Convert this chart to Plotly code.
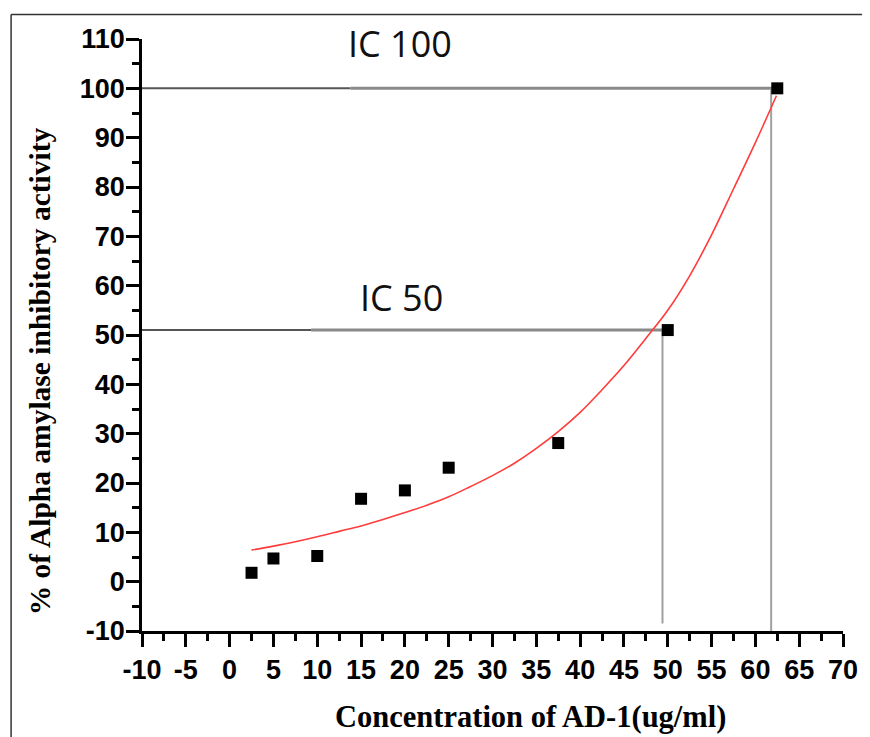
import plotly.graph_objects as go

# Measured data points
conc = [2.5, 5, 10, 15, 20, 25, 37.5, 50, 62.5]
inhibition = [1.8, 4.7, 5.2, 16.8, 18.5, 23.1, 28.1, 51.0, 100.0]

# Fitted curve
fit_x = [2.5, 5, 7.5, 10, 12.5, 15, 17.5, 20, 22.5, 25, 27.5, 30, 32.5, 35, 37.5, 40, 42.5, 45, 47.5, 50, 52.5, 55, 57.5, 60, 62.4]
fit_y = [6.4, 7.2, 8.1, 9.1, 10.2, 11.3, 12.6, 14.0, 15.5, 17.2, 19.3, 21.5, 24.0, 27.0, 30.4, 34.3, 38.9, 43.8, 49.3, 55.0, 62.0, 70.3, 79.6, 89.0, 98.5]

# IC reference lines
ic_labels = ["IC 100", "IC 50"]
ic_y = [100, 51]
ic_x = [61.8, 49.4]
ic_h_end = [62.4, 49.5]
ic_v_bottom = [-10, -8.5]
ic_dark_split = [13.8, 9.3]
ic_label_pos = [(19.45, 109.0), (19.6, 57.6)]

x_ticks = list(range(-10, 75, 5))
y_ticks = list(range(-10, 120, 10))

x_title = "Concentration of AD-1(ug/ml)"
y_title = "% of Alpha amylase inhibitory activity"

OFF = 8  # page body margin
W, H = 870 - OFF, 737 - OFF
ML = 142 - OFF
MT = 38.5 - OFF
MR = W - (843.5 - OFF)
MB = H - (631 - OFF)
pw, ph = W - ML - MR, H - MT - MB

fig = go.Figure()

fig.add_trace(go.Scatter(x=fit_x, y=fit_y, mode="lines",
                         line=dict(color="#ff3b3b", width=1.6, shape="spline", smoothing=1.0),
                         showlegend=False, hoverinfo="skip"))
fig.add_trace(go.Scatter(x=conc, y=inhibition, mode="markers",
                         marker=dict(symbol="square", size=12, color="black"), showlegend=False))

shapes = []
for yv, xv, he, vb, sp in zip(ic_y, ic_x, ic_h_end, ic_v_bottom, ic_dark_split):
    shapes.append(dict(type="line", xref="x", yref="y", x0=-10, x1=sp, y0=yv, y1=yv,
                       line=dict(color="#555555", width=2), layer="below"))
    shapes.append(dict(type="line", xref="x", yref="y", x0=sp, x1=he, y0=yv, y1=yv,
                       line=dict(color="#8a8a8a", width=3), layer="below"))
    shapes.append(dict(type="line", xref="x", yref="y", x0=xv, x1=xv, y0=yv, y1=vb,
                       line=dict(color="#a0a0a0", width=2), layer="below"))

# outer frame (left and top)
fx = (11 - OFF - ML) / pw
fy = (H - MB - (14 - OFF)) / ph
shapes.append(dict(type="line", xref="paper", yref="paper", x0=fx, x1=(W - ML) / pw + 0.02, y0=fy, y1=fy,
                   line=dict(color="#333333", width=1.5)))
shapes.append(dict(type="line", xref="paper", yref="paper", x0=fx, x1=fx, y0=fy, y1=-MB / ph - 0.02,
                   line=dict(color="#333333", width=1.5)))

annotations = []
for lab, (ax_, ay_) in zip(ic_labels, ic_label_pos):
    annotations.append(dict(x=ax_, y=ay_, xref="x", yref="y", text=lab, showarrow=False,
                            font=dict(family="Open Sans", size=36, color="#111111")))

xtitle_font = dict(family="Liberation Serif", size=30.5, color="black", weight="bold")
ytitle_font = dict(family="Liberation Serif", size=29.5, color="black", weight="bold")

# axis titles (page positions: x title centre 531,717; y title centre 40,371)
annotations.append(dict(text=x_title, xref="paper", yref="paper", showarrow=False,
                        x=(531 - 142) / pw, y=-(717 - 631) / ph, xanchor="center", yanchor="middle",
                        font=xtitle_font))
annotations.append(dict(text=y_title, xref="paper", yref="paper", showarrow=False, textangle=-90,
                        x=(40 - 142) / pw, y=(631 - 371) / ph, xanchor="center", yanchor="middle",
                        font=ytitle_font))

tick_font = dict(family="Liberation Sans", size=27, color="black", weight="bold")

fig.update_layout(
    width=W, height=H,
    margin=dict(l=ML, r=MR, t=MT, b=MB, autoexpand=False),
    paper_bgcolor="white", plot_bgcolor="white",
    shapes=shapes, annotations=annotations,
    xaxis=dict(range=[-10, 70], tickmode="array", tickvals=x_ticks, ticktext=[str(v) for v in x_ticks],
               showgrid=False, zeroline=False, showline=True, linecolor="black", linewidth=2.5,
               ticks="outside", ticklen=13, tickwidth=2.5, tickcolor="black", tickfont=tick_font,
               minor=dict(dtick=2.5, tick0=-10, ticks="outside", ticklen=7, tickwidth=2.5, tickcolor="black", showgrid=False),
               automargin=False),
    yaxis=dict(range=[-10, 110], tickmode="array", tickvals=y_ticks, ticktext=[str(v) for v in y_ticks],
               showgrid=False, zeroline=False, showline=True, linecolor="black", linewidth=2.5,
               ticks="outside", ticklen=13, tickwidth=2.5, tickcolor="black", tickfont=tick_font,
               ticklabelstandoff=-4,
               minor=dict(dtick=5, tick0=-10, ticks="outside", ticklen=7, tickwidth=2.5, tickcolor="black", showgrid=False),
               automargin=False),
)

fig.write_html("out.html")
